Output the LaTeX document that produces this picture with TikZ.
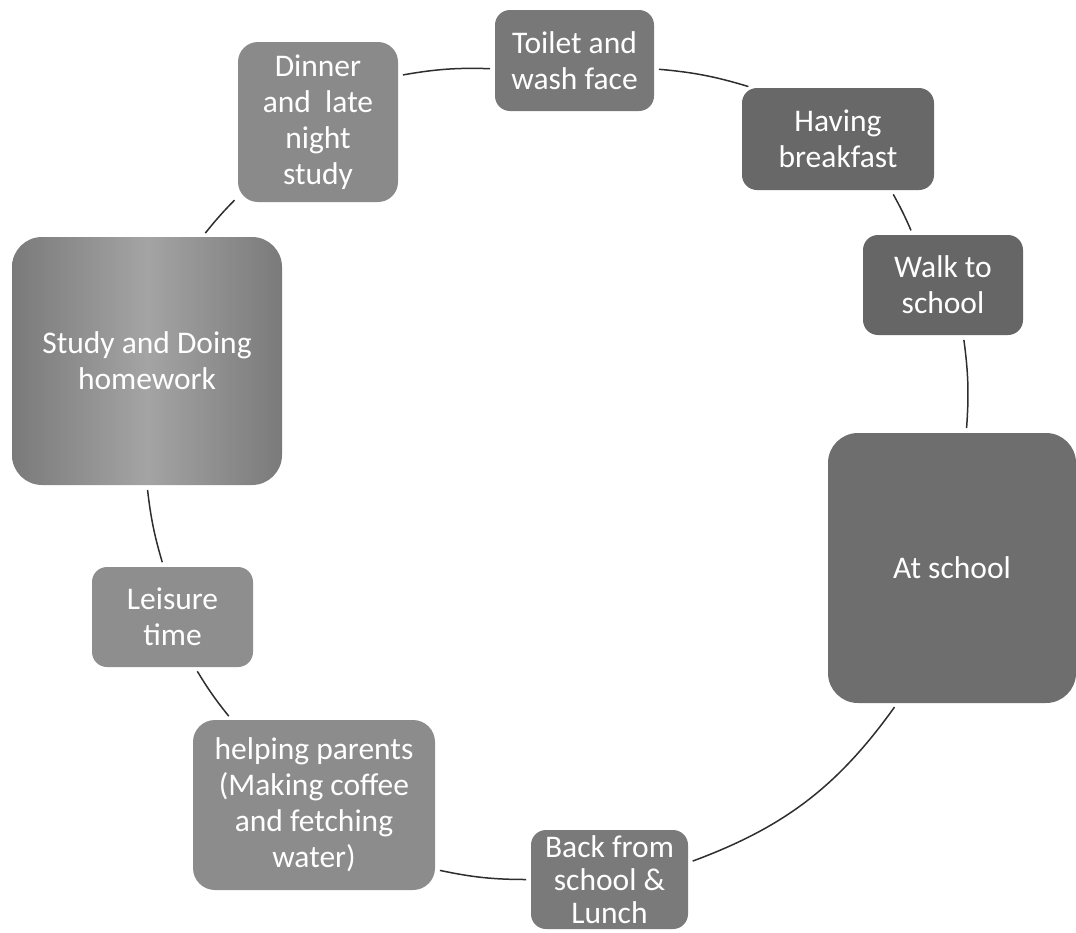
\documentclass[tikz,border=0pt]{standalone}
\usepackage{fontspec}
\setmainfont{Carlito}
\definecolor{cToilet}{HTML}{787878}
\definecolor{cBreak}{HTML}{686868}
\definecolor{cWalk}{HTML}{666666}
\definecolor{cSchool}{HTML}{6E6E6E}
\definecolor{cBack}{HTML}{7A7A7A}
\definecolor{cHelp}{HTML}{8C8C8C}
\definecolor{cLeis}{HTML}{8E8E8E}
\definecolor{cStudyEdge}{HTML}{7A7A7A}
\definecolor{cStudyMid}{HTML}{A4A4A4}
\definecolor{cDinner}{HTML}{8A8A8A}
\definecolor{cLink}{HTML}{2E2E2E}
\begin{document}
\begin{tikzpicture}[x=1pt,y=1pt,
  box/.style={rounded corners=15pt, draw=none, text=white, align=center,
    inner sep=0pt, outer sep=0pt, font=\fontsize{31.5}{36}\selectfont},
  link/.style={draw=cLink, line width=1.5pt, shorten <=5pt, shorten >=5pt}]
\useasboundingbox (0,-932) rectangle (1076,0);
\node[box, fill=cToilet, minimum width=159pt, minimum height=101pt] (toilet) at (574.5,-60.5) {Toilet and\\wash face};
\node[box, fill=cBreak, minimum width=192pt, minimum height=102pt] (breakfast) at (838,-139) {Having\\breakfast};
\node[box, fill=cWalk, minimum width=160pt, minimum height=100pt] (walk) at (943,-285) {Walk to\\school};
\node[box, fill=cSchool, rounded corners=30pt, minimum width=248pt, minimum height=270pt] (school) at (952,-568) {At school};
\node[box, fill=cBack, minimum width=157pt, minimum height=99pt, font=\fontsize{31.5}{33}\selectfont] (back) at (609.5,-879.5) {Back from\\school \&\\Lunch};
\node[box, fill=cHelp, rounded corners=22pt, minimum width=242pt, minimum height=170pt] (helping) at (314,-805) {helping parents\\(Making coffee\\and fetching\\water)};
\node[box, fill=cLeis, minimum width=161pt, minimum height=100pt] (leisure) at (172.5,-617) {Leisure\\time};
\node[box, left color=cStudyEdge, right color=cStudyEdge, middle color=cStudyMid, rounded corners=30pt, minimum width=270pt, minimum height=248pt] (study) at (147,-361) {Study and Doing\\homework};
\node[box, fill=cDinner, rounded corners=20pt, minimum width=160pt, minimum height=160pt] (dinner) at (318,-122) {Dinner\\and\ \ late\\night\\study};
\draw[link] (dinner.30) to[bend left=6] (toilet.186);
\draw[link] (toilet.-6) to[bend left=6] (breakfast.149);
\draw[link] (breakfast.-44) to[bend left=3] (walk.121);
\draw[link] (walk.-68) to[bend left=6] (school.84);
\draw[link] (school.248) to[bend left=17] (back.12);
\draw[link] (back.180) to[bend left=6] (helping.-28);
\draw[link] (helping.134) to[bend left=4] (leisure.-66);
\draw[link] (leisure.100) to[bend left=5] (study.-90);
\draw[link] (study.66) to[bend left=3] (dinner.223);
\end{tikzpicture}
\end{document}
